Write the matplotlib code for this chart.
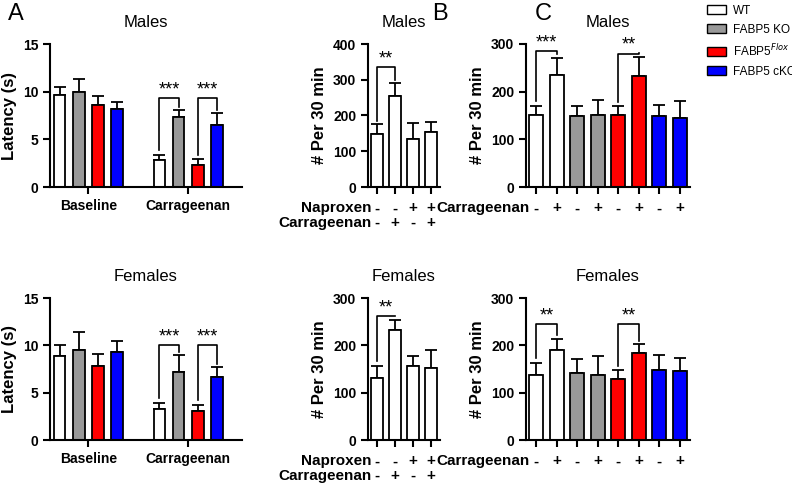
import matplotlib
matplotlib.use("Agg")
import matplotlib.pyplot as plt
from matplotlib.patches import Patch
from matplotlib.transforms import blended_transform_factory as btf

plt.rcParams['font.family'] = ['Liberation Sans', 'DejaVu Sans']

genotypes = ["WT", "FABP5 KO", "FABP5$^{Flox}$", "FABP5 cKO"]
colors = ["white", "#999999", "#ff0000", "#0000ff"]
a_groups = ["Baseline", "Carrageenan"]
a_m_mean = [[9.6, 10.0, 8.6, 8.2], [2.8, 7.3, 2.3, 6.5]]
a_m_err = [[0.9, 1.3, 0.9, 0.7], [0.6, 0.8, 0.6, 1.3]]
a_f_mean = [[8.9, 9.5, 7.8, 9.3], [3.3, 7.2, 3.1, 6.7]]
a_f_err = [[1.1, 1.9, 1.3, 1.2], [0.6, 1.8, 0.6, 1.0]]
b_naproxen = ["-", "-", "+", "+"]
b_carr = ["-", "+", "-", "+"]
b_m_mean = [148, 255, 133, 155]
b_m_err = [27, 35, 45, 28]
b_f_mean = [130, 232, 157, 153]
b_f_err = [27, 22, 21, 38]
c_carr = ["-", "+", "-", "+", "-", "+", "-", "+"]
c_colors = ["white", "white", "#999999", "#999999", "#ff0000", "#ff0000", "#0000ff", "#0000ff"]
c_m_mean = [150, 235, 148, 150, 151, 233, 148, 145]
c_m_err = [20, 35, 22, 32, 18, 40, 23, 35]
c_f_mean = [138, 190, 142, 138, 128, 184, 148, 146]
c_f_err = [25, 23, 29, 40, 19, 18, 32, 27]

fig = plt.figure(figsize=(7.92, 4.86), dpi=100)

def style(ax, ymax, step, ylabel):
    for s in ["top", "right"]:
        ax.spines[s].set_visible(False)
    for s in ["left", "bottom"]:
        ax.spines[s].set_linewidth(1.5)
    ax.set_ylim(0, ymax)
    ax.set_yticks(range(0, ymax + 1, step))
    ax.tick_params(width=1.5, length=5, labelsize=10)
    for t in ax.get_yticklabels():
        t.set_fontweight('bold')
    ax.set_ylabel(ylabel, fontsize=12, fontweight='bold')

def bracket(ax, x1, x2, y1, y2, top, stars, fs=13):
    ax.plot([x1, x1, x2, x2], [y1, top, top, y2], color='black', lw=1.2)
    ax.text((x1 + x2) / 2, top, stars, ha='center', va='bottom', fontsize=fs)

def bars(ax, xs, means, errs, cols, w):
    ax.bar(xs, means, width=w, color=cols, edgecolor='black', linewidth=1.3, zorder=2)
    ax.errorbar(xs, means, yerr=[[0] * len(means), errs], fmt='none', ecolor='black',
                elinewidth=1.3, capsize=4, capthick=1.3, zorder=1)

def panel_a(rect, means, errs, title, gap):
    ax = fig.add_axes(rect)
    xs, ms, es, cs = [], [], [], []
    for g in range(2):
        for i in range(4):
            xs.append(g * 5.2 + i + 0.5)
            ms.append(means[g][i]); es.append(errs[g][i]); cs.append(colors[i])
    bars(ax, xs, ms, es, cs, 0.6)
    ax.set_xlim(0, 10)
    ax.set_xticks([2, 7.2])
    ax.set_xticklabels(a_groups, fontsize=11, fontweight='bold')
    style(ax, 15, 5, "Latency (s)")
    ax.set_title(title, fontsize=12, pad=12)
    top = max(ms[5] + es[5], ms[7] + es[7]) + gap
    bracket(ax, xs[4], xs[5], ms[4] + es[4] + 0.5, ms[5] + es[5] + 0.3, top, "***")
    bracket(ax, xs[6], xs[7], ms[6] + es[6] + 0.5, ms[7] + es[7] + 0.3, top, "***")
    return ax

def rowlabels(ax, rows, names, fs=11):
    tr = btf(ax.transData, ax.transAxes)
    for r, (vals, name) in enumerate(zip(rows, names)):
        y = -0.15 - r * 0.1
        ax.text(-0.3, y, name, transform=tr, ha='right',
                va='center', fontsize=fs, fontweight='bold')
        for i, v in enumerate(vals):
            ax.text(i, y, v, transform=tr, ha='center', va='center', fontsize=fs, fontweight='bold')

def panel_b(rect, means, errs, title, ymax, stars_top):
    ax = fig.add_axes(rect)
    xs = list(range(4))
    bars(ax, xs, means, errs, ["white"] * 4, 0.7)
    ax.set_xlim(-0.5, 3.5)
    ax.set_xticks(xs)
    ax.set_xticklabels([])
    style(ax, ymax, 100, "# Per 30 min")
    ax.set_title(title, fontsize=12, pad=12)
    bracket(ax, 0, 1, means[0] + errs[0] + 10, means[1] + errs[1] + 8, stars_top, "**")
    rowlabels(ax, [b_naproxen, b_carr], ["Naproxen", "Carrageenan"])
    return ax

def panel_c(rect, means, errs, title, tops, stars):
    ax = fig.add_axes(rect)
    xs = list(range(8))
    bars(ax, xs, means, errs, c_colors, 0.7)
    ax.set_xlim(-0.5, 7.5)
    ax.set_xticks(xs)
    ax.set_xticklabels([])
    style(ax, 300, 100, "# Per 30 min")
    ax.set_title(title, fontsize=12, pad=12)
    for (a, b), t, s in zip([(0, 1), (4, 5)], tops, stars):
        bracket(ax, a, b, means[a] + errs[a] + 10, means[b] + errs[b] + 8, t, s)
    rowlabels(ax, [c_carr], ["Carrageenan"])
    return ax

H = 486.0
W = 792.0
def rect(x0, x1, ytop, ybot):
    return [x0 / W, 1 - ybot / H, (x1 - x0) / W, (ybot - ytop) / H]

panel_a(rect(50, 242, 44, 187), a_m_mean, a_m_err, "Males", 1.2)
panel_a(rect(50, 242, 298, 440), a_f_mean, a_f_err, "Females", 1.0)
panel_b(rect(368, 440, 44, 187), b_m_mean, b_m_err, "Males", 400, 335)
panel_b(rect(368, 440, 298, 440), b_f_mean, b_f_err, "Females", 300, 262)
panel_c(rect(526, 690, 44, 187), c_m_mean, c_m_err, "Males", [285, 280], ["***", "**"])
panel_c(rect(526, 690, 298, 440), c_f_mean, c_f_err, "Females", [245, 245], ["**", "**"])

fig.text(8 / W, 1 - 14 / H, "A", fontsize=17, va='center')
fig.text(432 / W, 1 - 14 / H, "B", fontsize=17, va='center')
fig.text(535 / W, 1 - 14 / H, "C", fontsize=17, va='center')

handles = [Patch(facecolor=c, edgecolor='black', linewidth=1) for c in colors]
fig.legend(handles, genotypes, loc='upper left', bbox_to_anchor=(702 / W, 1.0),
           frameon=False, fontsize=8.5, handlelength=1.6, handleheight=0.8,
           labelspacing=0.6, handletextpad=0.6, borderaxespad=0)

fig.savefig("out.png", dpi=100)
